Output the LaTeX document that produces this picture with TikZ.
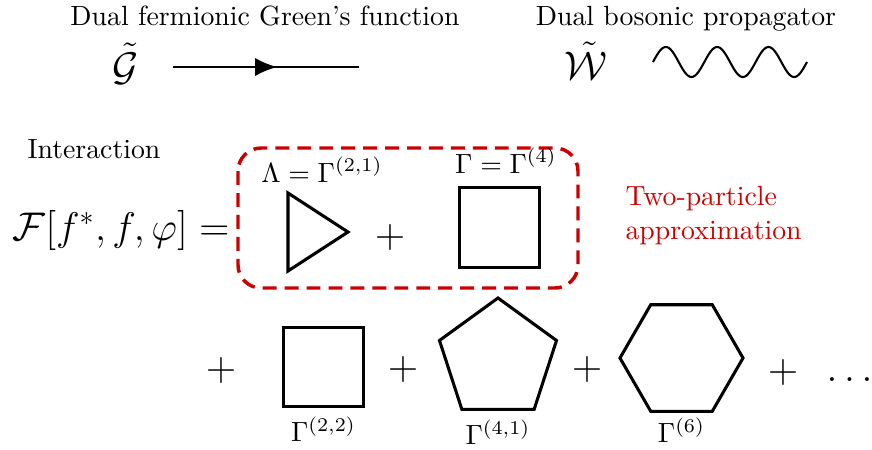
\documentclass[tikz,border=0pt]{standalone}
\usepackage{amsmath,amssymb}
\usepackage{xcolor}
\usepackage{tikz}
\usetikzlibrary{arrows.meta,positioning,shapes.geometric,decorations.markings}
\definecolor{approxred}{HTML}{CC0000}
\tikzset{
  pxgrid/.style={x=0.36pt,y=-0.36pt},
  caption/.style={inner sep=0pt,anchor=base,font=\normalsize},
  bigmath/.style={inner sep=0pt,font=\Large},
  vertexbox/.style={draw=black,line width=1.1pt,minimum size=28.6pt,inner sep=0pt},
  vertexpoly/.style={vertexbox,regular polygon,minimum size=44.3pt},
  fermion/.style={line width=0.75pt,postaction={decorate},
    decoration={markings,mark=at position 0.56 with {\arrow{Latex[length=7.9pt,width=6.5pt]}}}},
  boson/.style={line width=0.75pt},
  twopbox/.style={draw=approxred,line width=1.25pt,dash pattern=on 5pt off 2.9pt,rounded corners=8.3pt}
}

\begin{document}
\begin{tikzpicture}[pxgrid]
  \useasboundingbox (0,0) rectangle (872,449);
  % propagators
  \node[caption] (fermtitle) at (265,25) {Dual fermionic Green's function};
  \node[caption] (bostitle) at (686,25) {Dual bosonic propagator};
  \node[bigmath,anchor=base] (gdual) at (125.5,80) {$\tilde{\mathcal{G}}$};
  \coordinate (fin) at (173,67);
  \coordinate (fout) at (359,67);
  \draw[fermion] (fin) -- (fout);
  \node[bigmath,anchor=base] (wdual) at (586,79) {$\tilde{\mathcal{W}}$};
  \draw[boson] plot[domain=0:1080,samples=121,smooth] ({653+0.14259*\x},{62-15*sin(\x)});
  % interaction
  \node[caption] (inter) at (94,158) {Interaction};
  \node[bigmath,anchor=base west] (func) at (12,240) {$\mathcal{F}[f^*,f,\varphi]=$};
  \draw[twopbox] (238,148) rectangle (578,288);
  \draw[line width=1.1pt,line join=miter] (288,193) -- (348,232) -- (288,271) -- cycle;
  \node[caption] (lamlbl) at (322,182) {$\Lambda=\Gamma^{(2,1)}$};
  \node[bigmath] (plusa) at (390,237) {$+$};
  \node[vertexbox] (sq4) at (499.5,227.5) {};
  \node[caption] (gamlbl) at (506,173) {$\Gamma=\Gamma^{(4)}$};
  \node[caption,anchor=north west,align=left,text=approxred] (approx) at (625,186) {Two-particle\\approximation};
  % higher vertices
  \node[bigmath] (plusb) at (221,370) {$+$};
  \node[vertexbox] (sq22) at (323.5,367) {};
  \node[caption,anchor=north,below=3pt of sq22] (lbl22) {$\Gamma^{(2,2)}$};
  \node[bigmath] (plusc) at (403,369) {$+$};
  \node[vertexpoly,regular polygon sides=5] (pent) at (498,359.5) {};
  \node[caption,anchor=north,below=3pt of pent] (lbl41) {$\Gamma^{(4,1)}$};
  \node[bigmath] (plusd) at (587,369) {$+$};
  \node[vertexpoly,regular polygon sides=6] (hex) at (681.5,358) {};
  \node[caption,anchor=north,below=1.5pt of hex] (lbl6) {$\Gamma^{(6)}$};
  \node[bigmath] (pluse) at (783,372) {$+$};
  \node[bigmath,anchor=base] (more) at (853,381) {$\dots$};
\end{tikzpicture}
\end{document}
